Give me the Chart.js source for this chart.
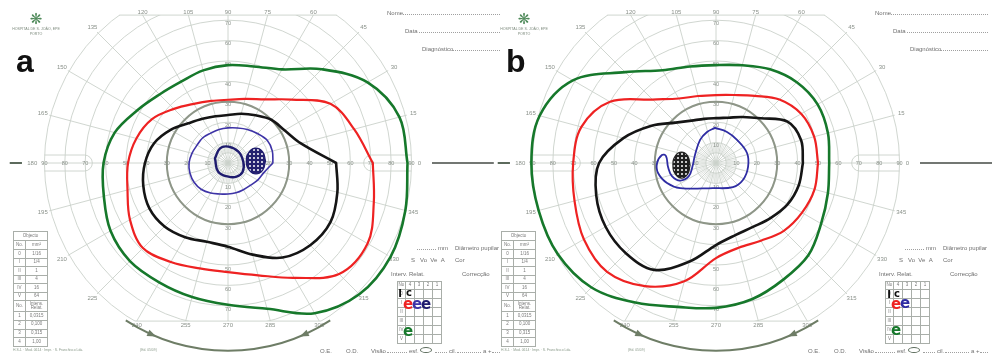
<!DOCTYPE html>
<html lang="pt">
<head>
<meta charset="utf-8">
<title>Campimetria de Goldmann</title>
<script src="https://cdn.jsdelivr.net/npm/chart.js@4.4.1/dist/chart.umd.min.js"></script>
<style>
html,body{margin:0;padding:0;background:#fff;}
body{width:992px;height:358px;overflow:hidden;position:relative;font-family:"Liberation Sans",Arial,sans-serif;color:#6d6d6d;}
.panel{position:absolute;top:0;width:504px;height:358px;}
.panel canvas{position:absolute;left:0;top:0;}
.t{position:absolute;white-space:nowrap;line-height:1;font-size:6px;transform:translateY(-50%);color:#6f6f6f;}
.dl{position:absolute;height:0;border-bottom:1px dotted #a0a0a0;}
.letter{position:absolute;font:bold 32px "Liberation Sans",Arial,sans-serif;color:#111;line-height:32px;}
.hw{position:absolute;font-weight:bold;line-height:1;transform:translate(-50%,-50%);font-family:"DejaVu Sans",sans-serif;}
.logo{position:absolute;color:#4f8a5a;font-size:15px;line-height:1;transform:translate(-50%,-50%);font-family:"DejaVu Sans",sans-serif;}
.oval{position:absolute;width:10px;height:4px;border:1.5px solid #5d6d5d;border-radius:50%;}
table.tb{position:absolute;border-collapse:collapse;table-layout:fixed;}
table.tb td{border:0.8px solid #a9aea9;padding:0;text-align:center;font-size:4.5px;line-height:1;color:#7a7a7a;overflow:hidden;}
</style>
</head>
<body>
<div class="panel" id="pa" style="left:0"><canvas id="ca" width="504" height="358"></canvas></div>
<div class="panel" id="pb" style="left:488px"><canvas id="cb" width="504" height="358"></canvas></div>
<script>
// ---------------- data (degrees of visual field) ----------------
const meridians = [0,15,30,45,60,75,90,105,120,135,150,165,180,195,210,225,240,255,270,285,300,315,330,345];
const meridianLabels = ['0','15','30','45','60','75','90','105','120','135','150','165','180','195','210','225','240','255','270','285','300','315','330','345'];
const ringDegrees = [10,20,30,40,50,60,70,80,90];
const ringLabels = ['10','20','30','40','50','60','70','80','90'];

// panel a – isopter eccentricity at each meridian
const greenA = [88,87,79,65,53,49,48,47,46,47.5,51.5,57.5,61,63,66.5,68,67.5,68,69.5,74,85,91,92,90];
const redA   = [71,64,58,44,36,32.5,31,31.5,33.5,37.5,43,46.5,49,51,55.5,59,56,53.5,53.5,57,65,77,79,74];
const blackA = [53,37,32,30,27,25,23.5,23.7,25,27.5,32.5,37.5,40.7,43,44.5,44,42,40,41,46.5,53.5,57,58,55.5];
const blueA  = [22,22.5,22.2,20.4,19,17.8,17.2,17,16.9,17.5,17.5,18.3,19.1,19.3,19.1,18.4,17,15.7,15.2,15.1,15.1,15.5,16.8,18.2];
// panel a – small outlines as [x°, y°]
const innerA = [[-6.4,2.3],[-3.9,7.2],[0.2,8.0],[5.1,5.6],[7.5,0.6],[7.2,-4.3],[4.2,-6.7],[0.2,-6.7],[-4.8,-4.3]];
const blindA = [[18.4,1.0],[17.0,5.5],[13.7,7.3],[10.4,5.5],[9.0,1.0],[10.4,-3.5],[13.7,-5.3],[17.0,-3.5]];

// panel b
const greenB = [55.5,56.8,57.5,56,53,49.6,48,49,52.5,63,81,89.5,90.5,90,89.5,86.3,79,73,71,69,66,64,59.5,56.8];
const redB   = [50,49.8,48.2,44,38,34.5,33.3,34,36.5,44,60,68.3,70,71.8,74.8,75.5,69.7,60,46.6,43,44,47,48.7,50];
const blackB = [42.6,43.2,40.5,31,26,23,22,22.4,24,28,36.5,47,57.3,60.8,62.5,62.5,60.5,50,40.2,36.6,36.2,38,40.5,42];
const blueB  = [[-0.5,17.2],[5.4,15.2],[10.3,11.3],[15.2,4.9],[15.7,-2],[13.2,-8.3],[8.3,-11.8],[-1.5,-12.3],[-17.6,-12.3],[-24,-9.8],[-28.4,-4.9],[-28.9,0],[-26.5,3.9],[-24.5,3.4],[-23.5,-2],[-21.6,-6.4],[-17.6,-8.6],[-13.4,-6.6],[-11.6,-2],[-10.3,3.9],[-7.8,11.3],[-4.4,15.2]];
const blindB = [[-12.7,-1],[-13.9,3.5],[-16.9,5.4],[-19.9,3.5],[-21.1,-1],[-19.9,-5.5],[-16.9,-7.4],[-13.9,-5.5]];

// ---------------- layout ----------------
const PPD = 2.04, CX = 228, CY = 163, CW = 504, CH = 358;
const TOP_LIMIT = 72.5, BOTTOM_LIMIT = 77.5, FIELD = 90;
const GRID = '#cbd1cb', LABEL = '#8a918a';

function polar(vals){
  const pts = meridians.map((m,i)=>{const a=m*Math.PI/180;return {x:vals[i]*Math.cos(a), y:vals[i]*Math.sin(a)};});
  pts.push({x:pts[0].x,y:pts[0].y});
  return pts;
}
function cart(list){
  const pts = list.map(p=>({x:p[0],y:p[1]}));
  pts.push({x:pts[0].x,y:pts[0].y});
  return pts;
}
function dotPattern(bg, dot){
  const c=document.createElement('canvas'); c.width=4; c.height=4;
  const g=c.getContext('2d'); g.fillStyle=bg; g.fillRect(0,0,4,4);
  g.fillStyle=dot; g.beginPath(); g.arc(2,2,1.0,0,2*Math.PI); g.fill();
  return g.createPattern(c,'repeat');
}
function ln(data,color,width,extra){
  return Object.assign({data,borderColor:color,borderWidth:width,showLine:true,fill:false,
    pointRadius:0,pointHoverRadius:0,tension:0.35,borderCapStyle:'round',borderJoinStyle:'round'},extra||{});
}

const goldmannGrid = {
  id:'goldmannGrid',
  beforeDatasetsDraw(chart,args,opts){
    const ctx=chart.ctx, sx=chart.scales.x, sy=chart.scales.y;
    const cx=sx.getPixelForValue(0), cy=sy.getPixelForValue(0);
    const k=sx.getPixelForValue(1)-cx;
    const R=FIELD*k, topY=cy-TOP_LIMIT*k, botY=cy+BOTTOM_LIMIT*k;
    const P=(r,m)=>{const a=m*Math.PI/180;return [cx+Math.cos(a)*r*k, cy-Math.sin(a)*r*k];};
    ctx.save();
    ctx.beginPath(); ctx.rect(0,topY,chart.width,botY-topY); ctx.clip();
    ctx.beginPath(); ctx.arc(cx,cy,R+1.5,0,2*Math.PI); ctx.clip();
    ctx.strokeStyle=GRID; ctx.lineWidth=0.9;
    [5].concat(ringDegrees).forEach(r=>{ctx.beginPath();ctx.arc(cx,cy,r*k,0,2*Math.PI);ctx.stroke();});
    meridians.forEach(m=>{const e=P(110,m);ctx.beginPath();ctx.moveTo(cx,cy);ctx.lineTo(e[0],e[1]);ctx.stroke();});
    ctx.lineWidth=0.6;
    for(let m=0;m<360;m+=5){ if(m%15===0) continue; const s=P(5,m), e=P(10,m);
      ctx.beginPath();ctx.moveTo(s[0],s[1]);ctx.lineTo(e[0],e[1]);ctx.stroke(); }
    ctx.restore();

    ctx.save();
    ctx.strokeStyle=GRID; ctx.lineWidth=0.9;
    const hwT=Math.sqrt(FIELD*FIELD-TOP_LIMIT*TOP_LIMIT)*k, hwB=Math.sqrt(FIELD*FIELD-BOTTOM_LIMIT*BOTTOM_LIMIT)*k;
    ctx.beginPath(); ctx.moveTo(cx-hwT,topY); ctx.lineTo(cx+hwT,topY); ctx.stroke();
    ctx.beginPath(); ctx.moveTo(cx-hwB,botY); ctx.lineTo(cx+hwB,botY); ctx.stroke();
    // blind-spot capsules on the horizontal meridian
    const h=8;
    [1,-1].forEach(s=>{
      const xi=cx+s*66.5*k, xo=cx+s*FIELD*k;
      ctx.beginPath(); ctx.moveTo(xo,cy-h); ctx.lineTo(xi+s*h,cy-h);
      ctx.arc(xi+s*h,cy,h,-Math.PI/2,Math.PI/2,s>0); ctx.lineTo(xo,cy+h); ctx.stroke();
    });
    // 30 degree reference ring
    ctx.strokeStyle='#8e9688'; ctx.lineWidth=2;
    ctx.beginPath(); ctx.arc(cx,cy,30*k,0,2*Math.PI); ctx.stroke();

    // ring labels on the axes
    ctx.fillStyle=LABEL; ctx.textAlign='center'; ctx.textBaseline='middle';
    ctx.font='5.5px "Liberation Sans", Arial, sans-serif';
    ringDegrees.forEach((r,i)=>{
      const d=r*k, t=ringLabels[i];
      ctx.fillText(t,cx+d,cy); ctx.fillText(t,cx-d,cy);
      if(r<=70){ ctx.fillText(t,cx,cy-d+3); ctx.fillText(t,cx,cy+d+4); }
    });
    // meridian labels
    ctx.font='6px "Liberation Sans", Arial, sans-serif';
    meridians.forEach((m,i)=>{
      const a=m*Math.PI/180, c=Math.cos(a), s=Math.sin(a);
      let x,y; ctx.textAlign='center';
      if(s*FIELD>TOP_LIMIT){ const r=TOP_LIMIT/s; x=cx+c*r*k; y=topY-3; }
      else if(-s*FIELD>BOTTOM_LIMIT){ const r=BOTTOM_LIMIT/(-s); x=cx+c*r*k; y=botY+4; }
      else if(m===0){ x=cx+93*k; y=cy; ctx.textAlign='left'; }
      else if(m===180){ x=cx-93.5*k; y=cy; ctx.textAlign='right'; }
      else { const r=94; x=cx+c*r*k; y=cy-s*r*k; }
      ctx.fillText(meridianLabels[i],x,y);
    });
    ctx.textAlign='center';
    // left dash and right reference line
    ctx.strokeStyle='#5c6a5c'; ctx.lineWidth=2;
    ctx.beginPath(); ctx.moveTo(cx-107*k,cy); ctx.lineTo(cx-101*k,cy); ctx.stroke();
    ctx.strokeStyle='#454a45'; ctx.lineWidth=1.4;
    ctx.beginPath(); ctx.moveTo(cx+100*k,cy); ctx.lineTo(cx+opts.rightEnd*k,cy); ctx.stroke();
    // rotation arrow arc below the field
    const ar=92*k;
    ctx.strokeStyle='#6e7d66'; ctx.fillStyle='#6e7d66'; ctx.lineWidth=2;
    ctx.beginPath(); ctx.arc(cx,cy,ar,57*Math.PI/180,123*Math.PI/180); ctx.stroke();
    [[114,-1],[66,1]].forEach(([phi,dir])=>{
      const f=phi*Math.PI/180, px=cx+ar*Math.cos(f), py=cy+ar*Math.sin(f);
      const tx=dir>0?-Math.sin(f):Math.sin(f), ty=dir>0?Math.cos(f):-Math.cos(f);
      const nx=-ty, ny=tx;
      ctx.beginPath(); ctx.moveTo(px+tx*5,py+ty*5);
      ctx.lineTo(px-tx*4+nx*3.5,py-ty*4+ny*3.5); ctx.lineTo(px-tx*4-nx*3.5,py-ty*4-ny*3.5);
      ctx.closePath(); ctx.fill();
    });
    ctx.restore();
  }
};

function makeChart(id,datasets,rightEnd){
  return new Chart(document.getElementById(id),{
    type:'scatter',
    data:{datasets},
    options:{
      responsive:false, animation:false, devicePixelRatio:1, events:[],
      layout:{padding:0},
      scales:{
        x:{type:'linear',min:-CX/PPD,max:(CW-CX)/PPD,display:false},
        y:{type:'linear',min:-(CH-CY)/PPD,max:CY/PPD,display:false}
      },
      plugins:{legend:{display:false},tooltip:{enabled:false},goldmannGrid:{rightEnd}}
    },
    plugins:[goldmannGrid]
  });
}

makeChart('ca',[
  ln(polar(greenA),'#16782b',2.6),
  ln(polar(redA),'#ee2222',2.2),
  ln(polar(blackA),'#151515',2.6),
  ln(polar(blueA),'#3d33a6',1.6),
  ln(cart(innerA),'#1e1b6e',2.4,{tension:0.45}),
  ln(cart(blindA),'#1e1b6e',1.2,{tension:0.5,fill:'shape',backgroundColor:dotPattern('#24216f','#ffffff')})
],130.3);

makeChart('cb',[
  ln(polar(greenB),'#16782b',2.6),
  ln(polar(redB),'#ee2222',2.2),
  ln(polar(blackB),'#151515',2.6),
  ln(cart(blueB),'#2e2ca3',1.8,{tension:0.4}),
  ln(cart(blindB),'#222222',1.2,{tension:0.5,fill:'shape',backgroundColor:dotPattern('#1f1f1f','#ffffff')})
],136);

// ---------------- form overlay ----------------
const objectRows = [['0','1/16'],['I','1/4'],['II','1'],['III','4'],['IV','16'],['V','64']];
const intensityRows = [['1','0,0315'],['2','0,100'],['3','0,315'],['4','1,00']];
const targetCols = ['4','3','2','1'];
const targetRows = ['0','I','II','III','IV','V'];
const marksA = [['I','#111',10,400,294],['c','#111',10,409,293],['e','#ee2222',15,408,304],['e','#3d33a6',15,417,304],['e','#1e1b6e',15,426,304],['e','#16782b',15,408,331]];
const marksB = [['I','#111',10,401,295],['c','#111',10,409,294],['e','#ee2222',15,408,304],['e','#2e2ca3',15,417,303],['e','#16782b',15,408,330]];

function el(panel,tag,cls,html,style){
  const d=document.createElement(tag); if(cls) d.className=cls; if(html!=null) d.innerHTML=html;
  Object.assign(d.style,style||{}); panel.appendChild(d); return d;
}
function txt(p,t,x,y,size,extra){ return el(p,'div','t',t,Object.assign({left:x+'px',top:y+'px',fontSize:(size||6)+'px'},extra||{})); }
function dots(p,x1,x2,y){ el(p,'div','dl',null,{left:x1+'px',top:y+'px',width:(x2-x1)+'px'}); }

function buildForm(id,letter,marks){
  const p=document.getElementById(id);
  el(p,'div','logo','❋',{left:'36px',top:'19px'});
  txt(p,'HOSPITAL DE S. JOÃO, EPE',36,30,3.6,{transform:'translate(-50%,-50%)',color:'#7d8a7d'});
  txt(p,'PORTO',36,35,3.6,{transform:'translate(-50%,-50%)',color:'#7d8a7d'});
  el(p,'div','letter',letter,{left:(letter==='a'?16:18)+'px',top:'45px'});
  txt(p,'Nome',387,13); dots(p,403,500,14);
  txt(p,'Data',405,31); dots(p,419,500,32);
  txt(p,'Diagnóstico',422,49); dots(p,452,500,50);
  dots(p,417,436,249); txt(p,'mm',438,248); txt(p,'Diâmetro pupilar',455,248);
  txt(p,'S&nbsp;&nbsp;&nbsp;Vo&nbsp;&nbsp;Ve&nbsp;&nbsp;A',411,260); txt(p,'Cor',455,260);
  txt(p,'Interv. Relat.',391,274); txt(p,'Correcção',462,274);
  txt(p,'O.E.',320,351); txt(p,'O.D.',346,351); txt(p,'Visão',371,351);
  dots(p,387,407,352); txt(p,'esf.',409,351);
  el(p,'div','oval',null,{left:'420px',top:'347px'});
  dots(p,435,447,352); txt(p,'cil.',449,351); dots(p,457,481,352); txt(p,'a +',483,351); dots(p,492,500,352);
  txt(p,'H.S.J. · Mod. 0614 · Impr. · S. Franchisco Lda.',13,351,3.4,{color:'#8a9a8a'});
  txt(p,'(Ed. 05/09)',140,351,3.4,{color:'#8a9a8a'});

  // objects table
  let h='<colgroup><col style="width:12px"><col style="width:22px"></colgroup>';
  h+='<tr style="height:9px"><td colspan="2">Objecto</td></tr><tr style="height:9px"><td>No.</td><td>mm²</td></tr>';
  objectRows.forEach(r=>{h+='<tr style="height:8.5px"><td>'+r[0]+'</td><td>'+r[1]+'</td></tr>';});
  h+='<tr style="height:11px"><td>No.</td><td>Intens.<br>Relat.</td></tr>';
  intensityRows.forEach(r=>{h+='<tr style="height:8.75px"><td>'+r[0]+'</td><td>'+r[1]+'</td></tr>';});
  el(p,'table','tb',h,{left:'13px',top:'231px',width:'34px'});

  // target table
  let g='<colgroup><col style="width:8px"><col style="width:9px"><col style="width:9px"><col style="width:9px"><col style="width:9px"></colgroup>';
  g+='<tr style="height:8px"><td>No</td>'+targetCols.map(c=>'<td>'+c+'</td>').join('')+'</tr>';
  targetRows.forEach(r=>{g+='<tr style="height:9px"><td>'+r+'</td><td></td><td></td><td></td><td></td></tr>';});
  el(p,'table','tb',g,{left:'397px',top:'281px',width:'44px'});
  marks.forEach(m=>el(p,'div','hw',m[0],{color:m[1],fontSize:m[2]+'px',left:m[3]+'px',top:m[4]+'px'}));
}
buildForm('pa','a',marksA);
buildForm('pb','b',marksB);
</script>
</body>
</html>
